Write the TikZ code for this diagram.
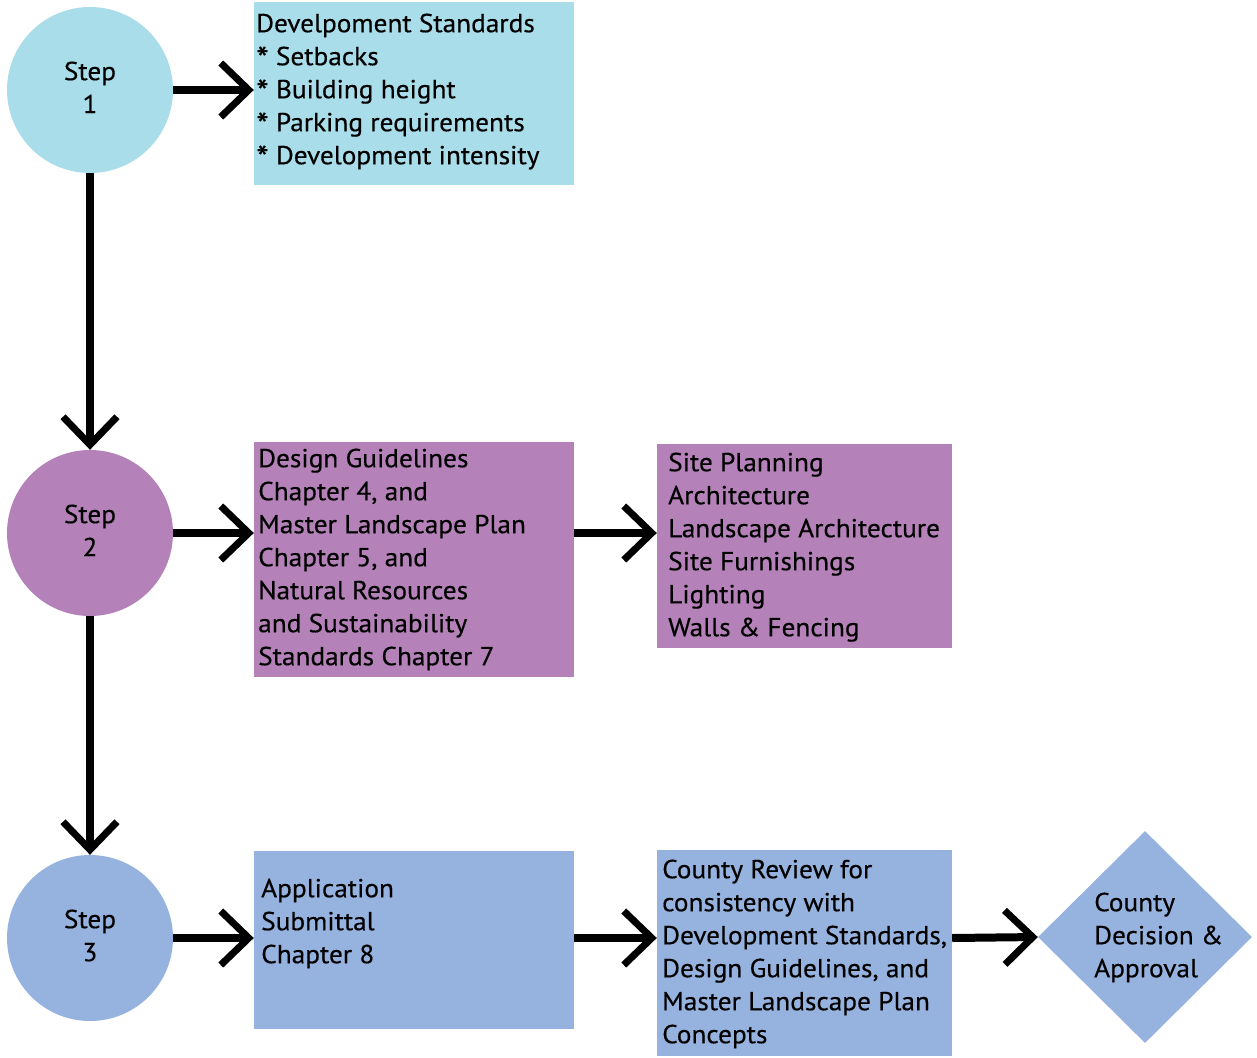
\documentclass[tikz,border=0pt]{standalone}
\usepackage{fontspec}
\setmainfont{PT Sans}[FakeStretch=1.05,FakeBold=0.4]
\usetikzlibrary{arrows.meta,shapes.geometric}
\definecolor{lblue}{HTML}{A9DDE9}
\definecolor{lpurple}{HTML}{B482B9}
\definecolor{lsteel}{HTML}{96B2DE}
\newcommand{\fstrut}{\rule{0pt}{21pt}}
\newcommand{\bulletstar}{\raisebox{-5.5pt}{\scalebox{1.3}{*}}}
\begin{document}
\begin{tikzpicture}[x=1pt,y=-1pt,
  every node/.style={font=\fontsize{26}{33}\selectfont, text=black},
  stepcircle/.style={circle, inner sep=0pt, minimum size=166pt, align=center},
  boxnode/.style={rectangle, inner sep=0pt},
  boxtext/.style={anchor=north west, inner sep=0pt, align=left},
  flow/.style={line width=8pt, -{Straight Barb[length=28pt,width=54pt,line width=7pt]}},
]
\useasboundingbox (0,0) rectangle (1257,1057);

% step circles
\node[stepcircle, fill=lblue]   (c1) at (90,90)  {Step\\1\vphantom{p}};
\node[stepcircle, fill=lpurple] (c2) at (90,533) {Step\\2\vphantom{p}};
\node[stepcircle, fill=lsteel]  (c3) at (90,938) {Step\\3\vphantom{p}};

% boxes
\node[boxnode, fill=lblue,   minimum width=320pt, minimum height=183pt] (b1) at (414,93.5) {};
\node[boxnode, fill=lpurple, minimum width=320pt, minimum height=235pt] (b2) at (414,559.5) {};
\node[boxnode, fill=lpurple, minimum width=295pt, minimum height=204pt] (b3) at (804.5,546) {};
\node[boxnode, fill=lsteel,  minimum width=320pt, minimum height=178pt] (b4) at (414,940) {};
\node[boxnode, fill=lsteel,  minimum width=295pt, minimum height=206pt] (b5) at (804.5,953) {};
\node[diamond, fill=lsteel, inner sep=0pt, minimum width=214pt, minimum height=212pt] (dm) at (1145,937) {};

% texts
\node[boxtext] (t1) at (256,11) {\fstrut Develpoment Standards\\\bulletstar{} Setbacks\\\bulletstar{} Building height\\\bulletstar{} Parking requirements\\\bulletstar{} Development intensity};
\node[boxtext] (t2) at (258,446) {\fstrut Design Guidelines\\Chapter 4, and\\Master Landscape Plan\\Chapter 5, and\\Natural Resources\\and Sustainability\\Standards Chapter 7};
\node[boxtext] (t3) at (668,450) {\fstrut Site Planning\\Architecture\\Landscape Architecture\\Site Furnishings\\Lighting\\Walls \& Fencing};
\node[boxtext] (t4) at (261,876) {\fstrut Application\\Submittal\\Chapter 8};
\node[boxtext] (t5) at (662,857) {\fstrut County Review for\\consistency with\\Development Standards,\\Design Guidelines, and\\Master Landscape Plan\\Concepts};
\node[boxtext] (t6) at (1094,890) {\fstrut County\\Decision \&\\Approval};

% connectors
\draw[flow] (c1.east) -- (c1.east -| b1.west);
\draw[flow] (c1.south) -- (c2.north);
\draw[flow] (c2.east) -- (c2.east -| b2.west);
\draw[flow] (c2.east -| b2.east) -- (c2.east -| b3.west);
\draw[flow] (c2.south) -- (c3.north);
\draw[flow] (c3.east) -- (c3.east -| b4.west);
\draw[flow] (c3.east -| b4.east) -- (c3.east -| b5.west);
\draw[flow] (c3.east -| b5.east) -- (dm.west);
\end{tikzpicture}
\end{document}
